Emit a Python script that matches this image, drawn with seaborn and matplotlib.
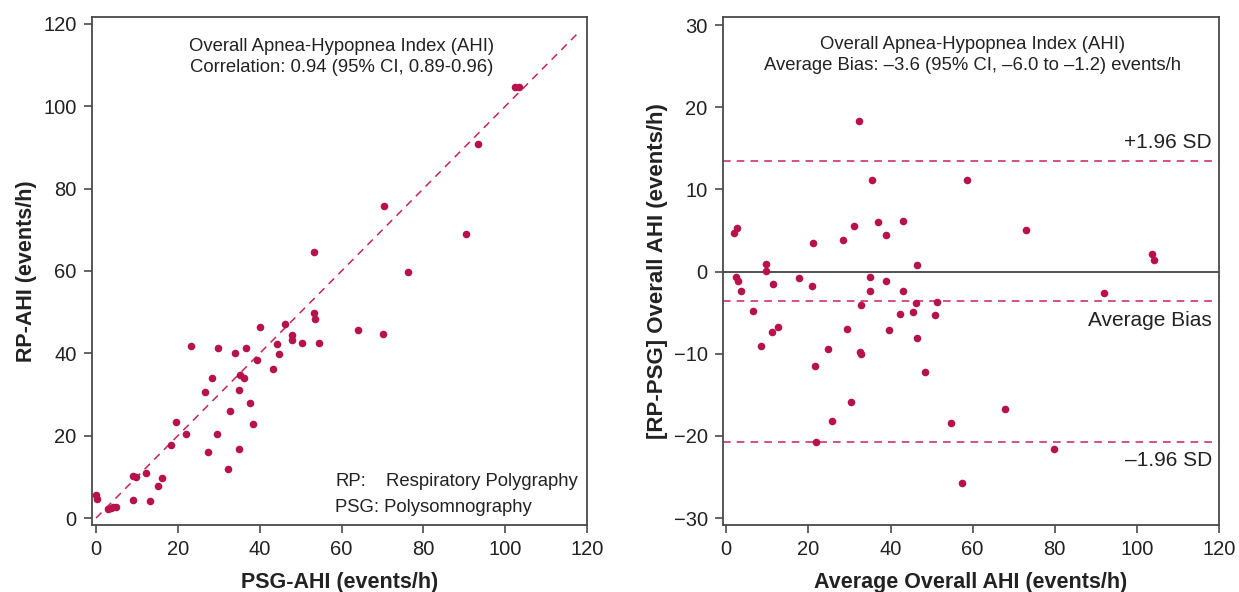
import numpy as np
import pandas as pd
import matplotlib
matplotlib.use("Agg")
import matplotlib.pyplot as plt
import seaborn as sns

# ---- Left panel: correlation (PSG-AHI vs RP-AHI) ----
psg_ahi = [102.5, 103.3, 93.3, 70.3, 90.5, 53.2, 76.2, 53.3, 53.5, 63.9,
           70.2, 46.2, 40.1, 48.0, 48.0, 50.4, 54.6, 44.3, 44.7, 23.2,
           29.9, 36.7, 33.9, 39.4, 43.3, 28.4, 35.2, 36.2, 26.7, 34.9,
           37.7, 32.8, 38.4, 19.6, 21.9, 29.6, 18.3, 27.3, 34.9, 32.2,
           9.0, 9.7, 12.3, 16.2, 15.1, 9.0, 13.1, 0.0, 0.2, 3.0,
           3.6, 4.2, 4.8]
rp_ahi = [104.8, 104.8, 90.9, 75.7, 69.1, 64.5, 59.7, 49.9, 48.4, 45.7,
          44.8, 47.2, 46.5, 44.4, 43.2, 42.6, 42.6, 42.2, 39.8, 41.7,
          41.4, 41.4, 40.1, 38.4, 36.3, 34.1, 34.8, 34.0, 30.7, 31.0,
          28.0, 26.0, 22.8, 23.3, 20.3, 20.3, 17.8, 16.1, 16.8, 11.8,
          10.3, 10.0, 10.9, 9.6, 7.8, 4.3, 4.2, 5.7, 4.6, 2.3,
          2.5, 2.6, 2.6]

# ---- Right panel: Bland-Altman ----
avg_ahi = [32.3, 35.4, 58.6, 2.0, 2.7, 21.2, 28.5, 31.1, 37.0, 38.9,
           43.1, 73.0, 103.6, 104.1, 9.6, 9.7, 46.5, 2.3, 2.9, 3.5,
           11.3, 17.8, 20.9, 34.9, 35.0, 38.9, 43.0, 32.7, 46.1, 51.4,
           92.1, 6.4, 42.2, 45.5, 50.8, 11.2, 12.7, 29.3, 39.7, 46.4,
           8.4, 24.7, 32.5, 32.7, 21.5, 48.5, 30.4, 67.8, 25.7, 54.7,
           21.8, 79.7, 57.5]
diff_ahi = [18.3, 11.2, 11.2, 4.7, 5.3, 3.5, 3.8, 5.5, 6.0, 4.5,
            6.2, 5.1, 2.2, 1.4, 0.9, 0.1, 0.8, -0.7, -1.2, -2.3,
            -1.5, -0.8, -1.7, -0.6, -2.4, -1.2, -2.3, -4.1, -3.8, -3.7,
            -2.6, -4.8, -5.1, -4.9, -5.3, -7.3, -6.8, -7.0, -7.1, -8.1,
            -9.0, -9.4, -9.8, -10.0, -11.5, -12.2, -15.9, -16.7, -18.2, -18.4,
            -20.7, -21.6, -25.7]

bias = -3.6
upper_loa = 13.5
lower_loa = -20.7

ticks_x = [0, 20, 40, 60, 80, 100, 120]
ticks_y_left = [0, 20, 40, 60, 80, 100, 120]
ticks_y_right = [-30, -20, -10, 0, 10, 20, 30]

title_left = "Overall Apnea-Hypopnea Index (AHI)\nCorrelation: 0.94 (95% CI, 0.89-0.96)"
title_right = "Overall Apnea-Hypopnea Index (AHI)\nAverage Bias: \u20133.6 (95% CI, \u20136.0 to \u20131.2) events/h"

sns.set_theme(style="ticks")
plt.rcParams['font.family'] = ['Liberation Sans', 'DejaVu Sans']
plt.rcParams['axes.unicode_minus'] = True

DOT = "#B7124B"
DASH = "#C8225A"
SPINE = "#4a4a4a"
TXT = "#222222"

fig = plt.figure(figsize=(12.39, 5.92), dpi=100)
W, H = 1239, 592
axL = fig.add_axes([92/W, 1 - 525/H, (587-92)/W, (525-17)/H])
axR = fig.add_axes([723/W, 1 - 525/H, (1219-723)/W, (525-17)/H])

dfL = pd.DataFrame({"psg": psg_ahi, "rp": rp_ahi})
dfR = pd.DataFrame({"avg": avg_ahi, "diff": diff_ahi})

# Left
axL.plot([0, 118], [0, 118], ls=(0, (5, 4)), color=DASH, lw=1.1, zorder=1)
sns.scatterplot(data=dfL, x="psg", y="rp", ax=axL, color=DOT, s=30,
                linewidth=0, zorder=3)
axL.set_xlim(-1, 120)
axL.set_ylim(-1.7, 121.7)
axL.set_xticks(ticks_x)
axL.set_yticks(ticks_y_left)
axL.set_xlabel("PSG-AHI (events/h)", fontsize=15.5, fontweight="bold", color=TXT, labelpad=9)
axL.set_ylabel("RP-AHI (events/h)", fontsize=15.5, fontweight="bold", color=TXT, labelpad=4.5)
axL.text(60, 112.0, title_left, ha="center", va="center", fontsize=13.3,
         color=TXT, linespacing=1.3)
axL.text(58.5, 8.9, "RP:", ha="left", va="center", fontsize=13.3, color=TXT)
axL.text(70.8, 8.9, "Respiratory Polygraphy", ha="left", va="center", fontsize=13.3, color=TXT)
axL.text(58.5, 2.5, "PSG: Polysomnography", ha="left", va="center", fontsize=13.3, color=TXT)

# Right
axR.axhline(0, color="#222222", lw=1.1, zorder=1)
for yv in (upper_loa, bias, lower_loa):
    axR.axhline(yv, ls=(0, (5, 4)), color=DASH, lw=1.1, zorder=1)
sns.scatterplot(data=dfR, x="avg", y="diff", ax=axR, color=DOT, s=30,
                linewidth=0, zorder=3)
axR.set_xlim(-0.8, 120)
axR.set_ylim(-30.85, 31.0)
axR.set_xticks(ticks_x)
axR.set_yticks(ticks_y_right)
axR.set_xlabel("Average Overall AHI (events/h)", fontsize=15.5, fontweight="bold", color=TXT, labelpad=9)
axR.set_ylabel("[RP-PSG] Overall AHI (events/h)", fontsize=16, fontweight="bold", color=TXT, labelpad=4)
axR.text(60, 26.4, title_right, ha="center", va="center", fontsize=13.3,
         color=TXT, linespacing=1.3)
axR.text(118.3, 15.7, "+1.96 SD", ha="right", va="center", fontsize=15, color=TXT)
axR.text(118.3, -5.9, "Average Bias", ha="right", va="center", fontsize=15, color=TXT)
axR.text(118.3, -23.0, "\u20131.96 SD", ha="right", va="center", fontsize=15, color=TXT)

for ax in (axL, axR):
    for sp in ax.spines.values():
        sp.set_visible(True)
        sp.set_color(SPINE)
        sp.set_linewidth(1.3)
    ax.tick_params(axis="both", direction="out", length=6, width=1.2,
                   color=SPINE, labelsize=14.5, labelcolor=TXT, pad=5)
    ax.grid(False)

fig.savefig("out.png", dpi=100)
